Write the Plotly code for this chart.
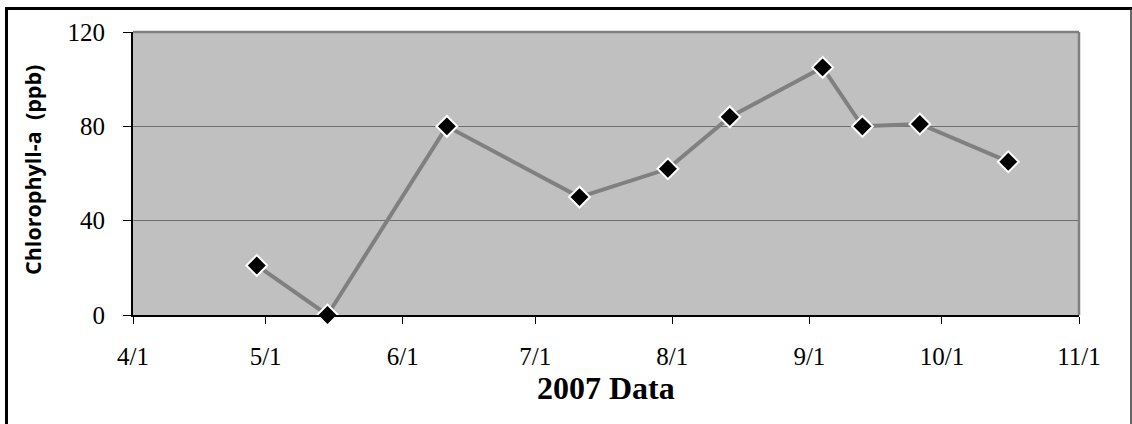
import plotly.graph_objects as go

dates = ["2007-04-29", "2007-05-15", "2007-06-11", "2007-07-11", "2007-07-31",
         "2007-08-14", "2007-09-04", "2007-09-13", "2007-09-26", "2007-10-16"]
chl = [21, 0, 80, 50, 62, 84, 105, 80, 81, 65]

x_ticks = ["2007-04-01", "2007-05-01", "2007-06-01", "2007-07-01", "2007-08-01",
           "2007-09-01", "2007-10-01", "2007-11-01"]
x_ticktext = ["4/1", "5/1", "6/1", "7/1", "8/1", "9/1", "10/1", "11/1"]
y_ticks = [0, 40, 80, 120]

W, H = 1132, 424
L, R, T, B = 133, 1079, 32, 315


def px(x):
    return (x - L) / (R - L)


def py(y):
    return (B - y) / (B - T)


fig = go.Figure()
fig.add_trace(go.Scatter(
    x=dates, y=chl, mode="lines+markers",
    line=dict(color="#808080", width=4),
    marker=dict(symbol="diamond", size=16, color="black",
                line=dict(color="white", width=2)),
    cliponaxis=False, showlegend=False,
))

serif = "Liberation Serif, Times New Roman, serif"

fig.update_layout(
    width=W, height=H,
    margin=dict(l=L, r=W - R, t=T, b=H - B, autoexpand=False),
    paper_bgcolor="white",
    plot_bgcolor="#C0C0C0",
    font=dict(family=serif, color="black"),
    xaxis=dict(
        type="date", range=["2007-04-01", "2007-11-01"],
        tickvals=x_ticks, ticktext=x_ticktext,
        showgrid=False, zeroline=False,
        showline=True, linecolor="black", linewidth=2,
        ticks="outside", ticklen=7, tickcolor="black", tickwidth=1,
        tickfont=dict(family=serif, size=25, color="black"),
        ticklabelstandoff=11,
    ),
    yaxis=dict(
        range=[0, 120], tickvals=y_ticks,
        showgrid=True, gridcolor="#6e6e6e", gridwidth=1,
        zeroline=False,
        showline=True, linecolor="black", linewidth=2,
        ticks="outside", ticklen=8, tickcolor="black", tickwidth=1,
        tickfont=dict(family=serif, size=25, color="black"),
        ticklabelstandoff=13,
    ),
    shapes=[
        dict(type="line", xref="paper", yref="paper", x0=0, x1=1, y0=1, y1=1,
             line=dict(color="#808080", width=2.5)),
        dict(type="line", xref="paper", yref="paper", x0=1, x1=1, y0=0, y1=1,
             line=dict(color="#808080", width=2.5)),
        dict(type="line", xref="paper", yref="paper", x0=px(6.5), x1=px(6.5),
             y0=py(440), y1=py(7), line=dict(color="black", width=3)),
        dict(type="line", xref="paper", yref="paper", x0=px(5), x1=px(1132),
             y0=py(8.5), y1=py(8.5), line=dict(color="black", width=3)),
        dict(type="line", xref="paper", yref="paper", x0=px(1131), x1=px(1131),
             y0=py(440), y1=py(8.5), line=dict(color="#333333", width=1.5)),
    ],
    annotations=[
        dict(text="<b>Chlorophyll-a  (ppb)</b>", xref="paper", yref="paper",
             x=px(32), y=py(170), textangle=-90, showarrow=False,
             xanchor="center", yanchor="middle",
             font=dict(family="Open Sans, Noto Sans, sans-serif", size=21.5, color="black")),
        dict(text="<b>2007 Data</b>", xref="paper", yref="paper",
             x=0.5, y=py(388), showarrow=False,
             xanchor="center", yanchor="middle",
             font=dict(family=serif, size=32, color="black")),
    ],
)

fig.write_html("out.html", config={"displayModeBar": False},
               post_script="document.body.style.margin='0';document.body.style.overflow='hidden';")
